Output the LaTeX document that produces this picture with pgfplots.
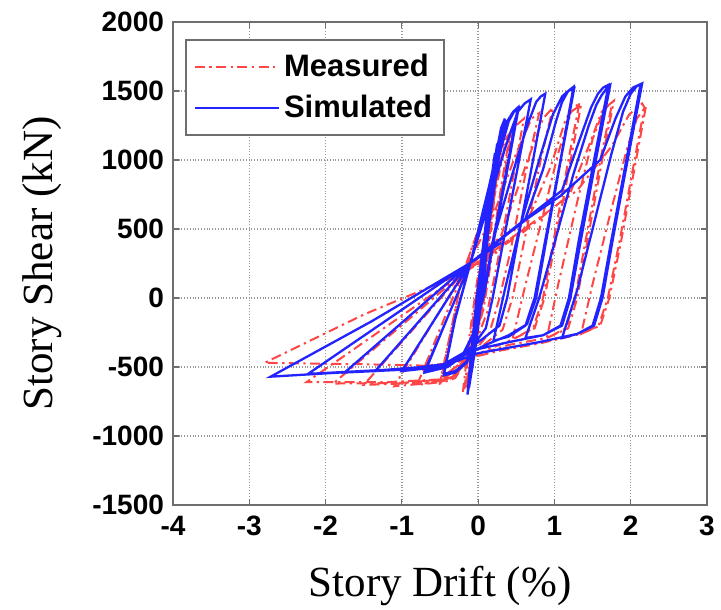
\documentclass[border=0pt]{standalone}
\usepackage{fontspec}
\setmainfont{Liberation Serif}
\newfontfamily\arial{Liberation Sans}
\usepackage{pgfplots}
\pgfplotsset{compat=1.18}
\definecolor{meas}{RGB}{255,70,70}
\definecolor{sim}{RGB}{35,35,255}
\definecolor{frame}{RGB}{110,110,110}

\begin{document}
\begin{tikzpicture}
\begin{axis}[
  name=ax, scale only axis, width=267pt, height=241.5pt,
  xmin=-4, xmax=3, ymin=-1500, ymax=2000,
  xtick={-4,-3,-2,-1,0,1,2,3}, ytick={-1500,-1000,-500,0,500,1000,1500,2000},
  grid=major, grid style={densely dotted, gray!80, line width=0.7pt},
  axis line style={frame, line width=1.1pt},
  tick align=inside, major tick length=3pt, tick style={frame, line width=0.6pt},
  ticklabel style={font=\arial\bfseries\fontsize{14}{16}\selectfont},
  xticklabel style={yshift=-2pt},
  yticklabel style={xshift=-1pt},
  /pgf/number format/assume math mode=true,
  /pgf/number format/1000 sep={},
  xlabel={Story Drift (\%)}, ylabel={Story Shear (kN)},
  label style={font=\fontsize{21.5}{24}\selectfont},
  xlabel style={at={(axis description cs:0.5,-0.19)}, anchor=base},
  ylabel style={at={(axis description cs:-0.245,0.5)}, anchor=center},
  legend style={at={(rel axis cs:0.0225,0.965)}, anchor=north west,
    draw=frame, line width=1pt, fill=white,
    font=\arial\bfseries\fontsize{15.5}{18}\selectfont,
    inner xsep=4pt, inner ysep=5pt, row sep=4pt,
    /tikz/every even column/.append style={column sep=2pt}},
  legend cell align=left,
  legend image code/.code={\draw[#1, line width=1pt] (0pt,0pt) -- (42pt,0pt);},
]
\coordinate (bl) at (rel axis cs:0,0);
\coordinate (tr) at (rel axis cs:1,1);

% measured (test)
\addplot[meas, line width=1pt, dash pattern=on 5pt off 2.2pt on 1.2pt off 2.2pt] coordinates {
(0,0)(0.08,350)(0.15,650)(0.08,300)(0,-100)(-0.08,-450)(-0.15,-650)(-0.08,-300)(0,50)
(0.15,700)(0.28,1100)(0.2,700)(0.08,100)(-0.05,-400)(-0.2,-680)(-0.12,-300)(-0.02,100)
(0.14,650)(0.3,1150)(0.22,760)(0.1,150)(-0.04,-380)(-0.18,-660)(-0.1,-280)(0,120)
(0.2,700)(0.35,1100)(0.42,1200)(0.3,800)(0.15,250)(0.05,-100)(-0.1,-400)(-0.3,-580)(-0.5,-620)
(-0.2,180)(0.05,560)(0.25,1000)(0.38,1170)(0.44,1210)(0.32,820)(0.17,270)(0.07,-80)(-0.08,-380)(-0.3,-570)(-0.5,-610)
(-0.2,180)(0.1,650)(0.35,1100)(0.5,1250)(0.6,1300)(0.45,850)(0.25,250)(0.12,-100)(-0.05,-350)(-0.3,-560)(-0.5,-610)(-0.8,-630)
(-0.2,180)(0.2,600)(0.5,1050)(0.7,1300)(0.8,1340)(0.62,900)(0.42,330)(0.28,0)(0.15,-250)(-0.1,-420)(-0.35,-580)(-0.7,-620)(-1.1,-640)
(-0.2,180)(0.3,450)(0.65,1000)(0.85,1300)(0.98,1380)(0.82,1000)(0.6,400)(0.45,0)(0.32,-230)(0.05,-350)(-0.25,-480)(-0.5,-600)(-1.0,-620)(-1.5,-630)
(-0.2,180)(0.6,500)(0.95,950)(1.15,1300)(1.33,1420)(1.2,1050)(1.0,450)(0.85,0)(0.72,-220)(0.45,-300)
(0.6,50)(0.85,600)(1.05,1050)(1.22,1350)(1.35,1400)(1.22,1020)(1.02,430)(0.87,0)(0.74,-220)(0.45,-300)(0.1,-380)(-0.2,-470)(-0.45,-590)(-1.0,-615)(-1.9,-620)
(-0.2,180)(0.6,480)(1.2,750)(1.45,1100)(1.62,1350)(1.76,1420)(1.62,1050)(1.42,450)(1.27,0)(1.15,-220)(0.9,-290)
(1.05,100)(1.3,700)(1.5,1150)(1.65,1370)(1.78,1430)(1.66,1100)(1.46,500)(1.3,0)(1.18,-220)(0.9,-290)(0.4,-340)(0,-410)(-0.3,-500)(-0.5,-590)(-1.2,-610)(-2.25,-610)
(-0.2,180)(0.6,500)(1.3,780)(1.75,1100)(1.98,1330)(2.15,1410)(2.18,1380)(2.05,1000)(1.85,400)(1.7,0)(1.58,-200)(1.35,-260)
(1.5,100)(1.75,650)(1.95,1080)(2.08,1300)(2.2,1390)(2.07,1000)(1.87,400)(1.72,0)(1.6,-200)(1.35,-260)(0.8,-330)(0.3,-380)(0,-420)(-0.3,-470)(-0.7,-490)(-1.5,-480)(-2.8,-470)
(-1.5,-120)(-0.2,180)(0.3,350)
};
\addlegendentry{Measured}

% simulated
\addplot[sim, line width=1.15pt] coordinates {
(0,0)(0.06,300)(0.12,600)(0.06,250)(0,-50)(-0.06,-350)(-0.1,-550)(-0.05,-250)(0.02,100)
(0.12,650)(0.22,1050)(0.15,700)(0.05,50)(-0.05,-400)(-0.14,-700)(-0.1,-450)(-0.02,0)
(0.12,620)(0.25,1120)(0.18,760)(0.07,100)(-0.04,-380)(-0.12,-650)(-0.08,-400)(0,50)
(0.1,500)(0.22,1000)(0.3,1230)(0.35,1300)(0.25,1000)(0.13,500)(0.05,100)(-0.05,-300)(-0.15,-470)(-0.3,-540)(-0.45,-560)
(-0.3,-150)(-0.1,255)(0.05,580)(0.2,950)(0.3,1200)(0.36,1290)(0.26,980)(0.14,520)(0.06,120)(-0.04,-280)(-0.15,-460)(-0.3,-530)(-0.45,-550)
(-0.3,-140)(-0.1,255)(0.05,600)(0.25,1050)(0.38,1280)(0.46,1350)(0.52,1380)(0.38,950)(0.2,430)(0.06,0)(-0.05,-250)(-0.2,-420)(-0.4,-500)(-0.7,-540)
(-0.4,-140)(-0.1,255)(0.05,560)(0.25,980)(0.4,1280)(0.47,1350)(0.53,1375)(0.4,980)(0.22,460)(0.08,30)(-0.04,-230)(-0.2,-410)(-0.4,-490)(-0.7,-530)
(-0.4,-140)(-0.1,255)(0.1,620)(0.35,1080)(0.52,1350)(0.61,1410)(0.69,1440)(0.52,950)(0.32,380)(0.19,0)(0.1,-220)(-0.1,-370)(-0.35,-470)(-0.6,-505)(-1.0,-530)
(-0.1,255)(0.17,370)(0.45,900)(0.65,1260)(0.76,1420)(0.82,1460)(0.88,1480)(0.72,1000)(0.52,420)(0.38,0)(0.28,-200)(0.05,-300)(-0.2,-400)(-0.45,-480)(-0.9,-510)(-1.35,-530)
(-0.1,255)(0.61,560)(0.85,930)(1.02,1280)(1.1,1420)(1.18,1500)(1.25,1530)(1.08,1000)(0.88,420)(0.74,0)(0.62,-200)(0.4,-280)(0.2,-310)
(0.35,60)(0.55,520)(0.8,1000)(0.98,1330)(1.1,1460)(1.18,1500)(1.26,1520)(1.1,1050)(0.9,440)(0.76,0)(0.64,-190)(0.4,-270)(0.1,-340)(-0.2,-420)(-0.45,-490)(-1.0,-520)(-1.75,-540)
(-0.1,255)(0.5,520)(1.1,780)(1.3,1100)(1.48,1380)(1.57,1480)(1.64,1525)(1.71,1545)(1.52,1000)(1.32,420)(1.19,0)(1.08,-200)(0.85,-270)(0.62,-290)
(0.8,0)(0.95,297)(1.25,900)(1.45,1250)(1.55,1400)(1.62,1470)(1.68,1515)(1.73,1540)(1.55,1020)(1.34,400)(1.21,0)(1.1,-200)(0.85,-270)(0.4,-320)(0,-370)(-0.25,-430)(-0.5,-490)(-1.2,-520)(-2.23,-550)
(-0.1,255)(0.5,520)(1.08,740)(1.6,1000)(1.8,1300)(1.93,1460)(2.03,1525)(2.13,1550)(1.95,1020)(1.75,430)(1.61,0)(1.5,-200)(1.3,-260)(1.1,-290)
(1.3,60)(1.5,500)(1.75,1050)(1.9,1350)(2.0,1480)(2.08,1535)(2.15,1555)(1.97,1030)(1.77,440)(1.63,0)(1.52,-200)(1.3,-260)(0.8,-320)(0.3,-370)(0,-400)(-0.3,-460)(-0.6,-500)(-1.5,-530)(-2.72,-570)
(-1.4,-170)(-0.1,255)(0.3,400)
};
\addlegendentry{Simulated}
\end{axis}
\pgfresetboundingbox
\path ([xshift=-86.5pt,yshift=-52pt]bl) rectangle ([xshift=7pt,yshift=11pt]tr);
\end{tikzpicture}
\end{document}
